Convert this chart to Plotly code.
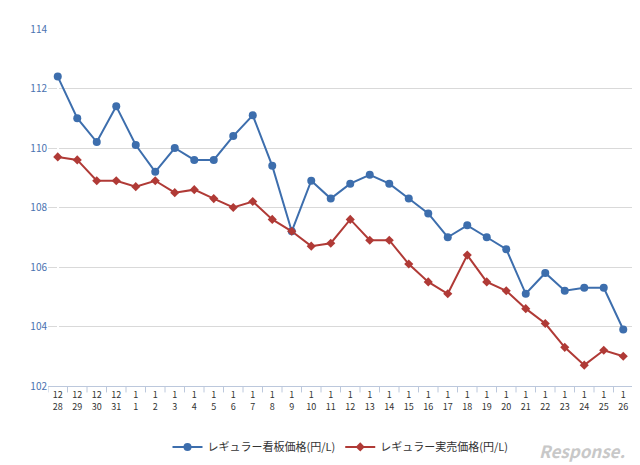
import plotly.graph_objects as go

months = ["12"]*4 + ["1"]*26
days = ["28","29","30","31"] + [str(d) for d in range(1,27)]
labels = [f"{m}<br>{d}" for m, d in zip(months, days)]
signboard = [112.4,111.0,110.2,111.4,110.1,109.2,110.0,109.6,109.6,110.4,111.1,109.4,107.2,108.9,108.3,
             108.8,109.1,108.8,108.3,107.8,107.0,107.4,107.0,106.6,105.1,105.8,105.2,105.3,105.3,103.9]
actual = [109.7,109.6,108.9,108.9,108.7,108.9,108.5,108.6,108.3,108.0,108.2,107.6,107.2,106.7,106.8,
          107.6,106.9,106.9,106.1,105.5,105.1,106.4,105.5,105.2,104.6,104.1,103.3,102.7,103.2,103.0]
idx = list(range(len(labels)))

fig = go.Figure()
fig.add_trace(go.Scatter(x=idx, y=signboard, mode="lines+markers", name="レギュラー看板価格(円/L)",
                         line=dict(color="#3d6ead", width=2), marker=dict(symbol="circle", size=8, color="#3d6ead")))
fig.add_trace(go.Scatter(x=idx, y=actual, mode="lines+markers", name="レギュラー実売価格(円/L)",
                         line=dict(color="#b03a36", width=2), marker=dict(symbol="diamond", size=7, color="#b03a36")))
fig.update_layout(
    width=640, height=465, paper_bgcolor="white", plot_bgcolor="white",
    margin=dict(l=40, r=15, t=12, b=78),
    font=dict(family="Noto Sans CJK JP, sans-serif", size=10, color="#333"),
    legend=dict(orientation="h", x=0.5, xanchor="center", y=-0.13, yanchor="top", font=dict(size=11)),
    showlegend=True,
)
fig.update_xaxes(range=[-0.5, len(idx)-0.5], tickvals=idx, ticktext=labels, tickangle=0,
                 ticks="", showline=True, linecolor="#bcc8dc", showgrid=False,
                 tickfont=dict(size=9, color="#333"))
for i in range(len(idx)+1):
    fig.add_shape(type="line", xref="x", yref="paper", x0=i-0.5, x1=i-0.5, y0=0, y1=-0.018,
                  line=dict(color="#bcc8dc", width=1))
fig.update_yaxes(range=[102, 114], dtick=2, showgrid=True, gridcolor="#d9d9d9", zeroline=False,
                 tickfont=dict(size=10, color="#4a72b0"))
fig.add_annotation(text="<i><b>Response.</b></i>", xref="paper", yref="paper", x=0.99, y=-0.14,
                   showarrow=False, xanchor="right", yanchor="top", font=dict(size=17, color="#c8c8c8"))
fig.write_html("out.html")
